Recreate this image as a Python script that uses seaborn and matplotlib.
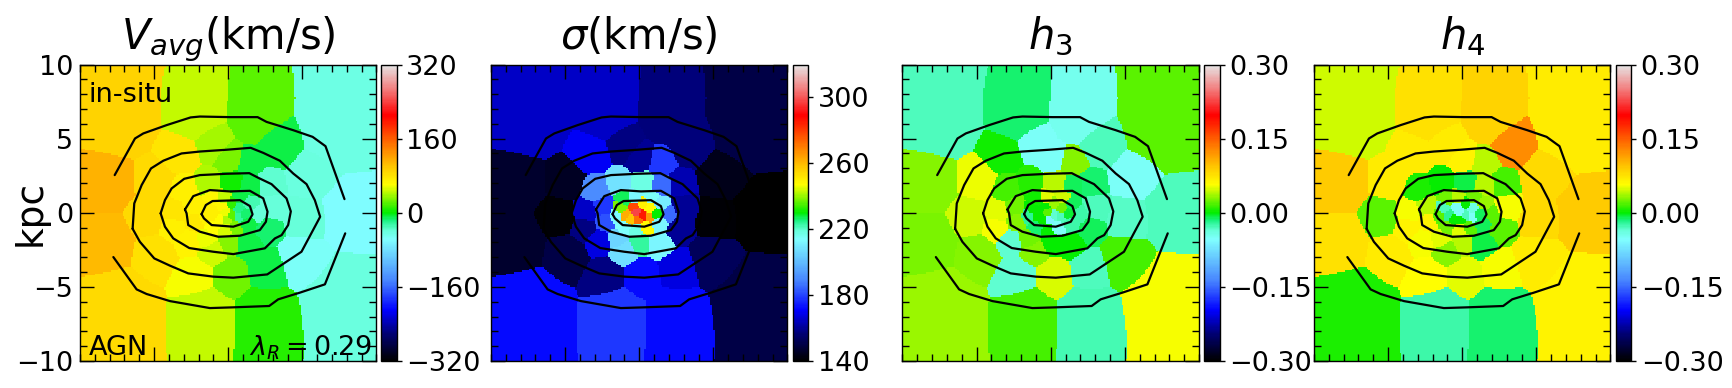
import numpy as np
import pandas as pd
import matplotlib
matplotlib.use('Agg')
import matplotlib.pyplot as plt
from matplotlib.colors import LinearSegmentedColormap
import seaborn as sns

# Voronoi bin centres (kpc), the same bins in every panel
seed_x = [-7.4, -2.2, 1.9, 7.4, -8.3, -8.3, 8.2, -7.4, -1.6, 2.5, 7.6,
          -4.9, -5.4, -4.9, -3.3, -1.0, 1.5, 3.3, 5.5, 5.2, 5.0, 2.6, 0.2, -2.3, 0.1,
          -3.6, -3.65, -3.0, -1.4, 0.25, 1.6, 2.7, 3.0, 2.0, 2.65, 1.3, 0.1, -1.1, -1.5, -2.7, -2.35, -2.45,
          -0.2, -0.4, 0.25, 0.75, 1.15, 0.65, 0.25, -0.15, -0.6, -0.95, -1.2, -0.95,
          -1.55, -0.3, 0.8, 1.4, -1.0, 1.37, -0.2, 0.47]
seed_y = [6.0, 6.4, 6.2, 5.4, 2.0, -2.0, 0.0, -6.0, -6.6, -6.6, -5.6,
          2.2, -0.3, -2.8, 3.9, 4.6, 3.4, 4.5, 2.4, -0.3, -3.2, -3.9, -4.3, -4.3, 3.7,
          0.0, -1.0, 1.6, 2.1, 2.1, 1.85, 2.0, 0.3, -0.1, -1.0, -2.1, -2.0, -2.6, -1.8, -1.9, -0.6, 0.3,
          0.0, 0.45, 0.65, 0.3, -0.05, -0.25, -0.2, -0.47, -0.47, -0.15, 0.27, 0.9,
          -0.25, 0.95, 1.0, 0.55, -0.92, -0.7, -1.15, -0.97]

v_avg = [90, 45, 22, -45, 110, 105, -58, 85, 45, 8, -42,
         85, 85, 82, 78, 38, -10, -8, -42, -40, -55, -10, 25, 58, 28,
         78, 72, 72, 42, 3, -10, -36, -40, -40, -15, -10, 30, 48, 55, 68, 75, 72,
         55, 65, 10, -20, -15, -25, 20, 42, 60, 70, 70, 65,
         70, 45, -8, -28, 62, -10, 52, 28]
sigma = [165, 165, 157, 150, 147, 147, 140, 172, 178, 172, 150,
         145, 141, 150, 170, 158, 178, 157, 144, 141, 153, 168, 172, 158, 160,
         165, 158, 190, 208, 218, 185, 163, 160, 185, 160, 212, 223, 207, 205, 168, 182, 178,
         298, 278, 250, 248, 230, 265, 285, 272, 258, 262, 238, 227,
         213, 212, 215, 210, 214, 212, 218, 248]
h3 = [-0.03, -0.012, -0.045, 0.02, 0.03, 0.028, -0.03, 0.035, 0.015, -0.028, 0.056,
      0.052, 0.045, 0.03, 0.004, -0.05, 0.03, -0.03, -0.05, -0.032, 0.015, -0.03, 0.048, -0.035, -0.05,
      0.05, 0.056, 0.015, 0.008, 0.04, -0.01, -0.012, -0.03, -0.025, -0.01, 0.0, 0.0, 0.03, 0.025, -0.033, 0.03, 0.025,
      0.02, 0.0, 0.035, 0.025, -0.005, -0.03, -0.035, -0.06, 0.0, 0.002, 0.0, 0.004,
      -0.02, 0.05, 0.045, -0.01, -0.012, -0.025, 0.002, -0.05]
h4 = [0.045, 0.075, 0.085, 0.07, 0.09, 0.075, 0.09, 0.006, -0.025, -0.012, 0.065,
      0.07, 0.02, 0.07, 0.07, 0.07, 0.042, 0.125, 0.08, 0.08, 0.07, 0.055, 0.05, 0.058, 0.065,
      0.055, 0.065, 0.005, 0.002, -0.008, 0.04, 0.015, 0.055, 0.02, 0.02, -0.008, 0.04, 0.03, 0.05, 0.055, 0.065, 0.04,
      -0.05, -0.05, 0.0, -0.04, -0.01, -0.05, -0.03, 0.0, 0.002, -0.02, -0.03, 0.025,
      0.02, 0.04, 0.025, 0.035, 0.025, -0.01, 0.05, 0.02]

# flux contours (kpc), outer one is broken at left and right
c1a_x = [-7.66, -6.29, -5.73, -4.16, -2.54, -1.91, 0.11, 1.98, 2.58, 4.38, 5.69, 6.56, 7.84]
c1a_y = [2.54, 5.01, 5.35, 5.91, 6.43, 6.49, 6.45, 6.45, 6.13, 5.57, 5.12, 4.49, 0.92]
c1b_x = [-7.75, -6.18, -5.51, -3.93, -1.24, 0.34, 2.76, 3.37, 4.83, 6.52, 7.89]
c1b_y = [-2.99, -5.17, -5.48, -5.96, -6.43, -6.38, -6.29, -5.84, -5.39, -4.83, -1.39]
c2_x = [-6.45, -6.34, -5.84, -5.21, -4.38, -3.15, -1.91, -0.11, 1.51, 2.36, 3.48, 4.38, 5.28, 5.84, 6.2,
        4.94, 3.93, 2.63, 0.34, -1.01, -2.7, -3.93, -4.99, -5.96, -6.45]
c2_y = [-1.08, 0.63, 1.87, 2.99, 3.51, 4.0, 4.13, 4.25, 4.38, 4.04, 3.51, 2.65, 1.93, 0.85, -0.27,
        -2.63, -3.3, -4.16, -4.38, -4.31, -4.09, -3.57, -3.08, -1.96, -1.08]
c3_x = [-4.56, -4.27, -3.82, -2.97, -1.91, -0.11, 1.42, 2.02, 2.92, 3.93, 4.22, 4.04, 3.6, 3.15, 2.47,
        0.34, -1.01, -2.63, -3.71, -4.27, -4.56]
c3_y = [-0.04, 0.85, 1.64, 2.29, 2.54, 2.63, 2.67, 2.36, 1.93, 0.97, 0.09, -0.83, -1.51, -1.73, -2.4,
        -2.79, -2.63, -2.38, -1.73, -0.94, -0.04]
c4_x = [-2.92, -2.36, -1.24, 0.11, 1.46, 2.36, 2.65, 2.54, 2.13, 0.79, -0.67, -1.91, -2.7, -2.81, -2.92]
c4_y = [0.22, 1.12, 1.53, 1.44, 1.48, 0.97, 0.07, -0.61, -1.17, -1.55, -1.62, -1.28, -0.83, -0.04, 0.22]
c5_x = [-1.8, -1.51, -1.06, 0.79, 1.46, 1.64, 1.35, 0.34, -1.12, -1.64, -1.8]
c5_y = [-0.09, 0.52, 0.79, 0.85, 0.45, -0.11, -0.61, -0.94, -0.83, -0.38, -0.09]
contours = [(c1a_x, c1a_y), (c1b_x, c1b_y), (c2_x, c2_y), (c3_x, c3_y), (c4_x, c4_y), (c5_x, c5_y)]

titles = [r'$V_{avg}$(km/s)', r'$\sigma$(km/s)', r'$h_3$', r'$h_4$']
ranges = [(-320, 320), (140, 320), (-0.3, 0.3), (-0.3, 0.3)]
cbar_ticks = [[-320, -160, 0, 160, 320], [140, 180, 220, 260, 300],
              [-0.3, -0.15, 0, 0.15, 0.3], [-0.3, -0.15, 0, 0.15, 0.3]]
cbar_fmt = ['%d', '%d', '%.2f', '%.2f']
panels = [v_avg, sigma, h3, h4]

# panel edges in pixels
W, H = 1733, 388
ax_left = [80, 491, 902.5, 1314]
cax_left = [381.5, 793, 1204.5, 1616]

colors = [(0, (0, 0, 0)), (0.09, (0, 0, 0.45)), (0.17, (0, 0, 1)), (0.27, (0.28, 0.52, 1)),
          (0.41, (0.5, 1, 1)), (0.44, (0.4, 1, 0.85)), (0.475, (0.1, 0.95, 0.5)), (0.5, (0, 0.93, 0)),
          (0.547, (0.5, 0.96, 0)), (0.595, (1, 1, 0)), (0.645, (1, 0.82, 0)),
          (0.71, (1, 0.55, 0)), (0.83, (1, 0, 0)), (0.92, (0.95, 0.5, 0.5)), (1, (0.9, 0.9, 0.9))]
cmap = LinearSegmentedColormap.from_list('vel', colors, N=256)

sns.set_style('ticks')
plt.rcParams['font.family'] = ['DejaVu Sans']
plt.rcParams['mathtext.default'] = 'it'
plt.rcParams['text.color'] = 'k'
plt.rcParams['axes.labelcolor'] = 'k'
plt.rcParams['axes.titlecolor'] = 'k'
plt.rcParams['xtick.labelcolor'] = 'k'
plt.rcParams['ytick.labelcolor'] = 'k'

# nearest bin centre on a pixel grid, bins grow outward so inner cells come out rounded
N = 180
grid = (np.arange(N) + 0.5) / N * 20 - 10
xx, yy = np.meshgrid(grid, grid[::-1])
sx = np.array(seed_x)
sy = np.array(seed_y)
weight = 1 + 0.2 * np.hypot(sx, sy)
nearest = np.argmin(np.hypot(xx[..., None] - sx, yy[..., None] - sy) / weight, axis=-1)


def col(x):
    return (np.asarray(x) + 10) / 20 * N


def row(y):
    return (10 - np.asarray(y)) / 20 * N


fig = plt.figure(figsize=(W / 100, H / 100), dpi=100)
for i in range(4):
    ax = fig.add_axes([ax_left[i] / W, 1 - 361 / H, 296.5 / W, 296.5 / H])
    cax = fig.add_axes([cax_left[i] / W, 1 - 361 / H, 15.5 / W, 296.5 / H])
    df = pd.DataFrame(np.array(panels[i])[nearest])
    sns.heatmap(df, ax=ax, cbar_ax=cax, cmap=cmap, vmin=ranges[i][0], vmax=ranges[i][1],
                xticklabels=False, yticklabels=False)
    for cx, cy in contours:
        ax.plot(col(cx), row(cy), color='k', lw=1.6)

    ax.set_axisbelow(False)
    for s in ax.spines.values():
        s.set_visible(True)
        s.set_color('k')
        s.set_linewidth(1)
    major = [-5, 0, 5]
    minor = list(range(-10, 11))
    ax.set_xticks(col(major))
    ax.set_xticks(col(minor), minor=True)
    ax.set_yticks(row([-10, -5, 0, 5, 10]))
    ax.set_yticks(row(minor), minor=True)
    ax.tick_params(which='major', direction='in', length=10, width=1, color='k',
                   top=True, right=True, bottom=True, left=True, labelbottom=False, labelleft=False)
    ax.tick_params(which='minor', direction='in', length=5, width=1, color='k',
                   top=True, right=True, bottom=True, left=True)
    ax.set_xlabel('')
    ax.set_ylabel('')
    ax.set_title(titles[i], fontsize=30, pad=11)

    cb = ax.collections[0].colorbar
    cb.set_ticks(cbar_ticks[i], labels=[(cbar_fmt[i] % t).replace('-', '\u2212') for t in cbar_ticks[i]])
    cb.ax.tick_params(length=3.6, width=1, color='k', labelsize=19.5, pad=3, right=True)
    cb.outline.set_visible(True)
    cb.outline.set_edgecolor('k')
    cb.outline.set_linewidth(1)

    if i == 0:
        ax.tick_params(which='major', labelleft=True, labelsize=19.5, pad=5)
        ax.set_yticklabels(['\u221210', '\u22125', '0', '5', '10'], rotation=0)
        ax.set_ylabel('kpc', fontsize=27)
        ax.yaxis.set_label_coords(-0.105, 0.5)
        ax.text(0.03, 0.875, 'in-situ', transform=ax.transAxes, fontsize=19.5)
        ax.text(0.03, 0.02, 'AGN', transform=ax.transAxes, fontsize=19.5)
        ax.text(0.985, 0.02, r'$\lambda_R=0.29$', transform=ax.transAxes, fontsize=19.5, ha='right')

fig.savefig('out.png', dpi=100)
